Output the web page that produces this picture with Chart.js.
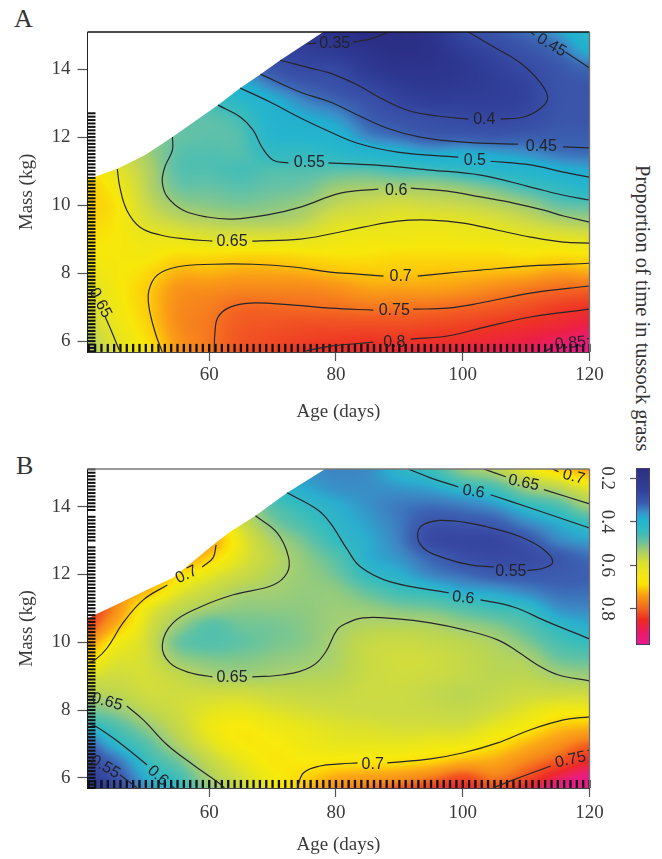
<!DOCTYPE html>
<html>
<head>
<meta charset="utf-8">
<style>
html,body{margin:0;padding:0;background:#fff;width:662px;height:859px;overflow:hidden}
canvas{position:absolute}
.t{position:absolute;font-family:"Liberation Serif",serif;color:#333;white-space:nowrap}
</style>
<script src="https://cdn.jsdelivr.net/npm/chart.js@4/dist/chart.umd.min.js"></script>
</head>
<body>
<div class="t" style="left:14px;top:4px;font-size:26px;line-height:30px">A</div>
<div class="t" style="left:16px;top:451px;font-size:26px;line-height:30px">B</div>
<div class="t" style="left:631px;top:165px;font-size:20.5px;line-height:24px;writing-mode:vertical-rl">Proportion of time in tussock grass</div>
<canvas id="panelA" style="left:0;top:0"></canvas>
<canvas id="panelB" style="left:0;top:437px"></canvas>
<canvas id="scaleBar" style="left:590px;top:440px"></canvas>
<script>
// ---------- axis ticks ----------
const ageTicks = [60, 80, 100, 120];
const massTicks = [6, 8, 10, 12, 14];
const barTicks = [0.2, 0.4, 0.6, 0.8];

// ---------- sampled surface: one row per age, one column per mass ----------
const fieldAges = [40,45,50,55,60,65,70,75,80,85,90,95,100,105,110,115,120];
const fieldMasses = [5.5,6,6.5,7,7.5,8,8.5,9,9.5,10,10.5,11,11.5,12,12.5,13,13.5,14,14.5,15,15.5];
const fieldA = [
[.59,.60,.615,.63,.635,.655,.67,.68,.69,.695,.70,.69,.67,.65,.63,.6,.57,.54,.5,.46,.42],
[.635,.645,.655,.662,.667,.67,.672,.675,.678,.68,.67,.652,.63,.61,.59,.57,.54,.5,.46,.43,.4],
[.67,.68,.69,.695,.695,.685,.67,.66,.64,.625,.615,.61,.60,.59,.57,.55,.52,.49,.45,.42,.39],
[.725,.725,.73,.73,.725,.71,.685,.655,.62,.595,.575,.565,.565,.57,.565,.56,.53,.49,.45,.41,.38],
[.745,.745,.745,.74,.73,.71,.685,.645,.61,.585,.57,.56,.56,.565,.565,.55,.52,.48,.44,.40,.37],
[.775,.77,.765,.755,.735,.715,.69,.645,.605,.58,.565,.555,.56,.56,.552,.53,.50,.46,.42,.38,.35],
[.785,.78,.77,.755,.735,.715,.69,.645,.605,.585,.57,.56,.54,.52,.51,.50,.465,.43,.39,.37,.34],
[.805,.79,.775,.752,.735,.712,.685,.648,.615,.595,.575,.56,.54,.515,.495,.47,.44,.40,.375,.355,.33],
[.81,.795,.775,.75,.73,.705,.68,.66,.64,.615,.595,.565,.53,.505,.48,.452,.42,.395,.36,.34,.32],
[.82,.80,.775,.745,.72,.70,.68,.665,.645,.625,.60,.565,.515,.47,.445,.425,.39,.36,.345,.33,.32],
[.83,.80,.775,.747,.72,.70,.685,.665,.652,.63,.60,.555,.505,.455,.425,.39,.365,.345,.335,.33,.32],
[.83,.805,.78,.75,.72,.703,.685,.668,.652,.625,.598,.552,.49,.44,.41,.375,.355,.345,.34,.345,.36],
[.835,.81,.785,.757,.725,.705,.685,.665,.648,.62,.59,.54,.495,.44,.40,.375,.36,.355,.365,.39,.42],
[.845,.82,.795,.765,.735,.707,.685,.662,.64,.61,.575,.525,.485,.435,.395,.375,.37,.375,.392,.425,.46],
[.85,.83,.805,.775,.745,.71,.68,.655,.625,.595,.555,.515,.475,.44,.405,.385,.385,.40,.425,.45,.49],
[.865,.845,.815,.79,.755,.72,.685,.65,.61,.57,.54,.50,.46,.44,.43,.425,.425,.43,.45,.475,.52],
[.875,.855,.83,.80,.76,.715,.68,.645,.60,.565,.52,.49,.455,.44,.43,.43,.43,.45,.49,.52,.56]
];
const fieldB = [
[.51,.52,.535,.555,.595,.63,.655,.68,.705,.735,.76,.77,.76,.74,.72,.70,.68,.66,.64,.62,.60],
[.53,.545,.565,.595,.615,.64,.66,.672,.682,.695,.72,.735,.73,.72,.71,.69,.67,.65,.63,.61,.59],
[.575,.59,.605,.62,.64,.66,.672,.675,.675,.675,.68,.69,.715,.73,.72,.70,.68,.66,.64,.62,.60],
[.595,.61,.63,.652,.665,.672,.672,.665,.645,.63,.645,.665,.685,.705,.73,.74,.72,.70,.68,.66,.64],
[.635,.65,.665,.68,.688,.682,.672,.652,.635,.62,.622,.648,.668,.685,.707,.725,.71,.69,.67,.65,.63],
[.665,.675,.685,.695,.695,.685,.672,.648,.635,.625,.63,.64,.652,.67,.682,.685,.672,.65,.63,.61,.59],
[.69,.692,.697,.695,.69,.68,.668,.651,.64,.632,.632,.64,.648,.655,.66,.652,.635,.62,.60,.585,.57],
[.715,.705,.695,.69,.685,.675,.665,.655,.645,.638,.638,.64,.642,.643,.64,.63,.615,.603,.59,.58,.57],
[.74,.72,.697,.685,.68,.672,.665,.658,.653,.652,.648,.645,.64,.63,.62,.605,.597,.592,.58,.575,.57],
[.75,.725,.698,.685,.678,.67,.67,.668,.668,.665,.655,.642,.625,.603,.592,.59,.585,.58,.578,.578,.575],
[.76,.73,.70,.685,.675,.67,.67,.672,.673,.668,.655,.635,.61,.592,.58,.572,.57,.57,.58,.595,.60],
[.77,.74,.705,.688,.675,.668,.665,.67,.672,.665,.653,.63,.603,.575,.56,.54,.548,.565,.585,.605,.62],
[.78,.755,.715,.69,.675,.665,.66,.665,.665,.66,.643,.62,.59,.565,.545,.535,.55,.57,.597,.635,.655],
[.76,.74,.72,.70,.685,.672,.665,.66,.658,.652,.635,.61,.585,.555,.54,.535,.555,.58,.61,.65,.68],
[.785,.755,.735,.715,.695,.682,.67,.66,.652,.635,.62,.602,.575,.553,.54,.55,.575,.60,.64,.68,.71],
[.80,.78,.75,.73,.71,.69,.67,.65,.63,.615,.60,.58,.565,.555,.552,.575,.59,.615,.655,.70,.73],
[.82,.795,.77,.745,.715,.69,.67,.645,.625,.605,.59,.575,.565,.558,.565,.585,.605,.645,.68,.715,.74]
];

// ---------- colour keys ----------
const levelsA = [.32,.36,.40,.43,.45,.47,.49,.52,.55,.57,.60,.625,.65,.675,.70,.72,.74,.76,.78,.80,.83,.86,.89];
const coloursA = ['#2a2a80','#2e3a94','#364aa4','#3a55aa','#3b66b4','#3c8cc8','#22aecf','#26b6cc','#3cbcbb','#68c2a4','#a8ce6c','#cfdb45','#e6e420','#f8e80a','#fdc80a','#fa9d16','#f67f1e','#f36022','#f04a24','#ee3424','#ec2044','#e91a80','#e81a92'];
const levelsB = [.52,.545,.56,.575,.59,.605,.625,.64,.65,.66,.672,.685,.695,.705,.72,.735,.75,.77,.79,.82];
const coloursB = ['#2f3a96','#3a4fa8','#3c62b2','#3d86c4','#2aaecf','#35bcbe','#60c2a4','#90ca80','#a8d070','#bcd650','#cfdc40','#e8e61c','#f8ea0c','#fdd806','#fba816','#f78a1a','#f2561f','#ee2a28','#e91c80','#e81a90'];
const barLevels = [.154,.255,.315,.356,.39,.44,.485,.53,.585,.654,.69,.737,.805,.85,.906,.966];
const barColours = ['#2b2f80','#30409a','#3a5cb0','#3a90cb','#1fb4d0','#2fbcc0','#60c0a0','#a0cc70','#d8e030','#f5e810','#fde000','#f9a010','#f06020','#ee2a20','#ec1a60','#e81a90'];

// ---------- edge of the surveyed region [age, mass] ----------
const edgeA = [[40.8,10.79],[42,10.83],[45.5,11.07],[49.9,11.47],[54.2,12.0],[61.4,12.94],[64.9,13.44],[68.1,13.85],[71.2,14.26],[78,15.09]];
const edgeB = [[40.8,10.69],[42,10.81],[45.9,11.16],[50.2,11.55],[54.3,11.9],[60.6,12.87],[63.3,13.26],[67.3,13.73],[72.3,14.41],[78.3,15.11]];

// ---------- contour segments [age, mass] ----------
const contoursA = [
[[75.5,14.74],[76.9,14.76]],
[[82.7,14.79],[85.9,14.91],[88.3,15.09]],
[[71.2,14.26],[76,14.03],[79.1,13.88],[83.4,13.53],[87,13.15],[91.3,12.79],[96,12.62],[100.9,12.53]],
[[106,12.53],[109.6,12.59],[112.3,12.85],[113.4,13.15],[112.3,13.59],[109.1,14.18],[104.9,14.65],[100.9,15.09]],
[[68.1,13.85],[74.4,13.32],[79.1,13.03],[83.4,12.65],[88.1,12.26],[93.3,12.0],[100.1,11.85],[108.7,11.79]],
[[115.8,11.71],[120,11.68]],
[[64.9,13.44],[69.6,13.03],[74.4,12.56],[79.1,12.15],[83.4,11.82],[89.7,11.56],[99.3,11.41]],
[[104.4,11.29],[110.7,11.18],[115.9,10.97],[120,10.82]],
[[61.4,12.94],[64.9,12.59],[66.9,12.21],[68.4,11.68],[70.1,11.32],[72.5,11.24]],
[[78.8,11.24],[85.9,11.18],[94.9,11.03],[102.8,10.88],[110.7,10.53],[115.9,10.29],[120,10.15]],
[[54.2,12.0],[54.2,11.62],[53.0,11.12],[52.6,10.68],[53.4,10.24],[55.9,9.85],[59.7,9.65],[63.8,9.59],[69.2,9.71],[74.4,9.94],[80.7,10.35],[86.7,10.47]],
[[91.8,10.5],[97.6,10.41],[102.8,10.24],[108,10.06],[112.8,9.85],[115.9,9.68],[120,9.5]],
[[45.5,11.06],[45.9,10.53],[47,9.85],[49.1,9.35],[52.3,9.12],[56.5,9.0],[60.5,8.94]],
[[66.8,8.94],[74.4,9.0],[79.1,9.15],[84.3,9.35],[89.7,9.53],[94.9,9.56],[100.1,9.47],[105.5,9.26],[110.7,9.06],[115.9,8.91],[120,8.88]],
[[43.6,6.71],[44.7,6.24],[45.8,5.74]],
[[52.6,5.68],[51.5,6.24],[50.5,7],[50.5,7.5],[51.8,7.94],[54.9,8.18],[60.6,8.26],[66.9,8.26],[73.3,8.18],[79.1,8.03],[83.4,7.97],[87.5,7.91]],
[[92.9,7.91],[97.6,8],[102.8,8.09],[110.7,8.21],[120,8.29]],
[[60.8,5.68],[60.9,6.24],[61.4,6.71],[63.3,7],[66.5,7.12],[73.3,7.06],[79.1,6.97],[85.9,6.91]],
[[92.2,6.94],[97.6,6.97],[102.8,7.12],[110.7,7.41],[120,7.62]],
[[75.2,5.71],[79.1,5.85],[85.9,5.97]],
[[91.8,6.06],[97.6,6.15],[102.8,6.38],[110.7,6.71],[120,6.94]],
[[112.8,5.68],[113.9,5.79]],
[[119.6,6.06],[120,6.09]],
[[110.7,15.09],[111.3,15.0]],
[[116.2,14.5],[120,14.03]]
];
const contoursB = [
[[40.8,9.39],[42,9.48],[43.9,9.83],[46.4,10.57],[49.6,11.25],[53.4,11.69]],
[[58.9,12.22],[60.6,12.49],[61.1,12.87]],
[[67.3,13.73],[70.7,13.23],[72.5,12.52],[72.3,12.05],[70.1,11.69],[63.8,11.4],[58.6,11.04],[54.3,10.57],[52.6,9.92],[53.8,9.39],[57,9.1],[60.5,8.98]],
[[66.8,8.98],[71.7,9.04],[76,9.27],[78.3,9.69],[80.2,10.37],[81.8,10.57],[84.3,10.72],[89.7,10.69],[94.9,10.57],[100.1,10.37],[105.5,10.07],[108.7,9.72],[111.8,9.33],[115,9.04],[120,8.86]],
[[47,8.12],[49.6,7.71],[53.4,6.97],[57.5,6.38],[61.3,5.88],[62.4,5.71]],
[[40.8,7.59],[42,7.53],[45.9,7.03],[50.2,6.38]],
[[53.8,5.76],[54.5,5.71]],
[[45.9,6.09],[48.6,5.71]],
[[73.9,5.71],[74.9,6.15],[77.5,6.35],[80.7,6.41],[83.4,6.44]],
[[88.1,6.44],[94.9,6.56],[100.1,6.74],[105.5,7.03],[110.7,7.42],[115.9,7.71],[120,7.8]],
[[104.9,5.71],[108,5.94],[113.9,6.35]],
[[119.7,6.8],[120,6.83]],
[[72.3,14.41],[77.1,13.91],[79.1,13.52],[81.8,12.73],[83.9,12.22],[88.6,11.78],[97.8,11.46]],
[[102.8,11.25],[108,11.04],[113.4,10.6],[120,10.1]],
[[91.4,15.11],[94.9,14.85],[99.3,14.58]],
[[104.4,14.35],[110.7,13.96],[120,13.37]],
[[103.3,15.11],[106.8,14.88]],
[[112.8,14.5],[120,14.08]],
[[114.2,15.11],[115.1,15.03]],
[[110.2,12.11],[112.8,12.19],[114.2,12.37],[112.8,12.73],[109.1,13.11],[103.9,13.4],[98.5,13.58],[94.4,13.52],[92.9,13.23],[93.8,12.78],[97,12.49],[101.2,12.28],[104.9,12.22]]
];

// ---------- contour labels [age, mass, text, angle] ----------
const labelsA = [
[79.8,14.74,'0.35',0],[103.4,12.5,'0.4',0],[112.4,11.71,'0.45',0],[114,14.7,'0.45',30],
[101.9,11.32,'0.5',0],[75.8,11.24,'0.55',0],[89.5,10.44,'0.6',0],[63.6,8.94,'0.65',0],
[90.2,7.91,'0.7',0],[89.2,6.91,'0.75',0],[89.2,5.97,'0.8',0],[117,5.94,'0.85',-5],[42.8,7.12,'0.65',62]
];
const labelsB = [
[56.4,11.99,'0.7',-25],[63.6,8.95,'0.65',0],[43.9,8.24,'0.65',15],[51.9,6.06,'0.6',42],[43.6,6.32,'0.55',30],
[85.8,6.38,'0.7',0],[117,6.53,'0.75',-12],[100.1,11.31,'0.6',6],[101.7,14.44,'0.6',8],[109.6,14.7,'0.65',12],
[117.5,14.88,'0.7',15],[107.6,12.08,'0.55',0]
];

// ---------- rug of observed ages and masses ----------
const rugAges = [41,42,43,44,45,46,47,48,49,50,51,52,53,54,55,56,57,58,59,60,61,62,63,64,65,66,67,68,69,70,71,72,73,74,75,76,77,78,79,80,81,82,83,84,85,86,87,88,89,90,91,92,93,94,95,96,97,98,99,100,101,102,103,104,105,106,107,108,109,110,111,112,113,114,115,116,117,118,119,120];
const rugMassA = [5.7,5.8,5.9,6,6.1,6.2,6.3,6.4,6.5,6.6,6.7,6.8,6.9,7,7.1,7.2,7.3,7.4,7.5,7.6,7.7,7.8,7.9,8,8.1,8.2,8.3,8.4,8.5,8.6,8.7,8.8,8.9,9,9.1,9.2,9.3,9.4,9.5,9.6,9.7,9.8,9.9,10,10.1,10.2,10.3,10.4,10.5,10.6,10.7,10.8,10.9,11,11.1,11.2,11.3,11.4,11.5,11.6,11.7,11.8,11.9,12,12.1,12.2,12.3,12.4,12.5,12.6,12.7];
const rugMassB = [5.7,5.8,5.9,6,6.1,6.2,6.3,6.4,6.5,6.6,6.7,6.8,6.9,7,7.1,7.2,7.3,7.4,7.5,7.6,7.7,7.8,7.9,8,8.1,8.2,8.3,8.4,8.5,8.6,8.7,8.8,8.9,9,9.1,9.2,9.3,9.4,9.5,9.6,9.7,9.8,9.9,10,10.1,10.2,10.3,10.4,10.5,10.6,10.7,10.8,10.9,11,11.1,11.2,11.3,11.4,11.5,11.6,11.7,11.8,11.9,12,12.1,12.2,12.3,12.4,12.5,12.6,12.7,12.8,13,13.1,13.2,13.3,13.4,13.5,13.6,13.7,13.9,14,14.1,14.2,14.3,14.4,14.5,14.6,14.7,14.8,14.9,15,15.1];

const serif = '"Liberation Serif", serif';
const sans = '"Liberation Sans", sans-serif';
const inkGrey = '#3a3a3a';

function hex(c){return [1,3,5].map(i=>parseInt(c.substr(i,2),16));}
function keyColour(v,levels,colours){
  if(v<=levels[0])return hex(colours[0]);
  for(let i=1;i<levels.length;i++){
    if(v<=levels[i]){
      const t=(v-levels[i-1])/(levels[i]-levels[i-1]),a=hex(colours[i-1]),b=hex(colours[i]);
      return a.map((k,j)=>k+(b[j]-k)*t);
    }
  }
  return hex(colours[colours.length-1]);
}
function cr(p0,p1,p2,p3,t){return .5*(2*p1+(p2-p0)*t+(2*p0-5*p1+4*p2-p3)*t*t+(3*p1-p0-3*p2+p3)*t*t*t);}
function surface(field,age,mass){
  const u=(age-fieldAges[0])/(fieldAges[1]-fieldAges[0]);
  const w=(mass-fieldMasses[0])/(fieldMasses[1]-fieldMasses[0]);
  const iu=Math.floor(u),iw=Math.floor(w),tu=u-iu,tw=w-iw;
  const R=i=>field[Math.max(0,Math.min(field.length-1,i))];
  const C=(r,j)=>r[Math.max(0,Math.min(r.length-1,j))];
  const rowAt=i=>{const r=R(i);return cr(C(r,iw-1),C(r,iw),C(r,iw+1),C(r,iw+2),tw);};
  return cr(rowAt(iu-1),rowAt(iu),rowAt(iu+1),rowAt(iu+2),tu);
}

const surfacePlugin = {
  id:'surface',
  beforeDatasetsDraw(chart,args,o){
    const a=chart.chartArea,xs=chart.scales.x,ys=chart.scales.y,ctx=chart.ctx;
    const w=Math.ceil(a.right-a.left),h=Math.ceil(a.bottom-a.top);
    const off=document.createElement('canvas');off.width=w;off.height=h;
    const oc=off.getContext('2d'),img=oc.createImageData(w,h);
    for(let py=0;py<h;py++){
      const mass=ys.getValueForPixel(a.top+py+.5);
      for(let px=0;px<w;px++){
        const age=xs.getValueForPixel(a.left+px+.5);
        const c=keyColour(surface(o.field,age,mass),o.levels,o.colours),k=(py*w+px)*4;
        img.data[k]=c[0];img.data[k+1]=c[1];img.data[k+2]=c[2];img.data[k+3]=255;
      }
    }
    oc.putImageData(img,0,0);
    ctx.save();
    ctx.beginPath();
    ctx.moveTo(xs.getPixelForValue(xs.min),ys.getPixelForValue(ys.min));
    o.edge.forEach(p=>ctx.lineTo(xs.getPixelForValue(p[0]),ys.getPixelForValue(p[1])));
    ctx.lineTo(xs.getPixelForValue(xs.max),ys.getPixelForValue(ys.max));
    ctx.lineTo(xs.getPixelForValue(xs.max),ys.getPixelForValue(ys.min));
    ctx.closePath();ctx.clip();
    ctx.drawImage(off,a.left,a.top);
    ctx.restore();
  },
  afterDatasetsDraw(chart,args,o){
    const a=chart.chartArea,xs=chart.scales.x,ys=chart.scales.y,ctx=chart.ctx;
    ctx.save();
    ctx.font='16px '+sans;ctx.fillStyle='#23232b';ctx.textAlign='center';ctx.textBaseline='middle';
    o.labels.forEach(l=>{
      ctx.save();
      ctx.translate(xs.getPixelForValue(l[0]),ys.getPixelForValue(l[1]));
      ctx.rotate(l[3]*Math.PI/180);
      ctx.fillText(l[2],0,0);
      ctx.restore();
    });
    ctx.strokeStyle=o.topColour;ctx.lineWidth=1.3;
    ctx.beginPath();ctx.moveTo(a.left,a.top);ctx.lineTo(a.right,a.top);ctx.stroke();
    ctx.strokeStyle='#6f6f6f';
    ctx.beginPath();ctx.moveTo(a.right,a.top);ctx.lineTo(a.right,a.bottom);ctx.stroke();
    ctx.restore();
  }
};

function noMargins(s){s.paddingLeft=0;s.paddingRight=0;s.paddingTop=0;s.paddingBottom=0;}

function panel(id,cfg){
  const el=document.getElementById(id);
  el.width=630;el.height=cfg.canvasH;
  el.style.width='630px';el.style.height=cfg.canvasH+'px';
  const lines=cfg.contours.map(seg=>({
    data:seg.map(p=>({x:p[0],y:p[1]})),showLine:true,pointRadius:0,tension:.4,
    borderColor:'#26262c',borderWidth:1.2,fill:false
  }));
  const rugs=[
    {data:rugAges.map(v=>({x:v,y:cfg.rugY})),pointStyle:'line',pointRotation:90,pointRadius:4,
     pointBorderWidth:2.3,pointBorderColor:'#111',showLine:false,clip:false},
    {data:cfg.rugMass.map(v=>({x:41.43,y:v})),pointStyle:'line',pointRotation:0,pointRadius:4,
     pointBorderWidth:2,pointBorderColor:'#111',showLine:false,clip:false}
  ];
  const ticksFrom=arr=>s=>{s.ticks=arr.map(v=>({value:v}));};
  return new Chart(el,{
    type:'scatter',
    data:{datasets:lines.concat(rugs)},
    plugins:[surfacePlugin],
    options:{
      responsive:false,animation:false,events:[],
      layout:{padding:{top:32,left:0,right:40.5,bottom:0}},
      plugins:{legend:{display:false},tooltip:{enabled:false},
        surface:{field:cfg.field,levels:cfg.levels,colours:cfg.colours,edge:cfg.edge,labels:cfg.labels,topColour:cfg.topColour}},
      scales:{
        x:{type:'linear',min:40.8,max:120,afterBuildTicks:ticksFrom(ageTicks),
          afterFit:s=>{s.height=cfg.xH;noMargins(s);},
          border:{display:true,color:'#444'},
          grid:{drawOnChartArea:false,tickLength:9,tickColor:'#555',tickWidth:1.2},
          ticks:{autoSkip:false,maxRotation:0,padding:cfg.xPad,color:inkGrey,font:{family:serif,size:19}},
          title:{display:true,text:'Age (days)',color:inkGrey,font:{family:serif,size:19},padding:{top:0,bottom:cfg.titleBottom}}},
        y:{type:'linear',min:cfg.yMin,max:cfg.yMax,afterBuildTicks:ticksFrom(massTicks),
          afterFit:s=>{s.width=87.5;noMargins(s);},
          border:{display:true,color:'#222'},
          grid:{drawOnChartArea:false,tickLength:10,tickColor:'#555',tickWidth:1.2},
          ticks:{autoSkip:false,padding:7,color:inkGrey,font:{family:serif,size:19}},
          title:{display:true,text:'Mass (kg)',color:inkGrey,font:{family:serif,size:19},padding:{top:16,bottom:0}}}
      }
    }
  });
}

panel('panelA',{canvasH:430,xH:78,xPad:3,titleBottom:7,yMin:5.68,yMax:15.09,rugY:5.8,
  field:fieldA,levels:levelsA,colours:coloursA,edge:edgeA,contours:contoursA,labels:labelsA,rugMass:rugMassA,topColour:'#111'});
panel('panelB',{canvasH:422,xH:71,xPad:5,titleBottom:3,yMin:5.7,yMax:15.11,rugY:5.82,
  field:fieldB,levels:levelsB,colours:coloursB,edge:edgeB,contours:contoursB,labels:labelsB,rugMass:rugMassB,topColour:'#777'});

// ---------- colour scale ----------
(function(){
  const el=document.getElementById('scaleBar');
  el.width=72;el.height=220;el.style.width='72px';el.style.height='220px';
  new Chart(el,{
    type:'bar',
    data:{labels:['proportion'],datasets:[{
      data:[[barLevels[0],barLevels[barLevels.length-1]]],
      barPercentage:1,categoryPercentage:1,borderSkipped:false,borderWidth:1.4,borderColor:'#4a3a6e',
      backgroundColor(c){
        const ch=c.chart;
        if(!ch.chartArea)return barColours[0];
        const y=ch.scales.y,g=ch.ctx.createLinearGradient(0,y.getPixelForValue(barLevels[0]),0,y.getPixelForValue(barLevels[barLevels.length-1]));
        barLevels.forEach((v,i)=>g.addColorStop((v-barLevels[0])/(barLevels[barLevels.length-1]-barLevels[0]),barColours[i]));
        return g;
      }
    }]},
    options:{
      responsive:false,animation:false,events:[],
      layout:{padding:{top:28,bottom:15,left:0,right:12}},
      plugins:{legend:{display:false},tooltip:{enabled:false}},
      scales:{
        x:{display:false},
        y:{type:'linear',reverse:true,min:barLevels[0],max:barLevels[barLevels.length-1],
          afterBuildTicks:s=>{s.ticks=barTicks.map(v=>({value:v}));},
          afterFit:s=>{s.width=46;noMargins(s);},
          border:{display:false},
          grid:{drawOnChartArea:false,tickLength:6,tickColor:'#555',tickWidth:1.2},
          ticks:{autoSkip:false,minRotation:-90,maxRotation:-90,crossAlign:'center',padding:11,color:inkGrey,
            font:{family:serif,size:19},callback:v=>v.toFixed(1)}}
      }
    }
  });
})();
</script>
</body>
</html>
